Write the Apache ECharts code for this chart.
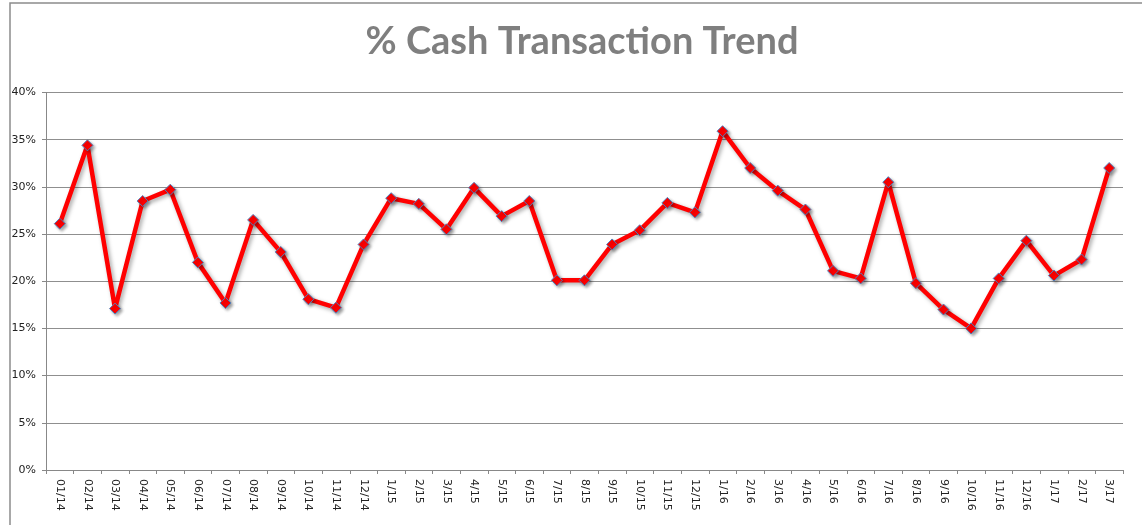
<!DOCTYPE html>
<html>
<head>
<meta charset="utf-8">
<script src="https://cdn.jsdelivr.net/npm/echarts@6/dist/echarts.min.js"></script>
<style>
  html, body { margin: 0; padding: 0; background: #fff; }
  #main { width: 1142px; height: 525px; }
</style>
</head>
<body>
<div id="main"></div>
<script>
// months on the x axis
var months = [
  '01/14', '02/14', '03/14', '04/14', '05/14', '06/14', '07/14', '08/14', '09/14', '10/14', '11/14', '12/14',
  '1/15', '2/15', '3/15', '4/15', '5/15', '6/15', '7/15', '8/15', '9/15', '10/15', '11/15', '12/15',
  '1/16', '2/16', '3/16', '4/16', '5/16', '6/16', '7/16', '8/16', '9/16', '10/16', '11/16', '12/16',
  '1/17', '2/17', '3/17'
]
// % cash transactions
var cashPct = [
  26.1, 34.4, 17.1, 28.5, 29.7, 22.0, 17.7, 26.5, 23.1, 18.1, 17.2, 23.9,
  28.8, 28.2, 25.5, 29.9, 26.9, 28.5, 20.1, 20.1, 23.9, 25.4, 28.3, 27.3,
  35.9, 32.0, 29.6, 27.6, 21.1, 20.3, 30.5, 19.8, 17.0, 15.0, 20.3, 24.3,
  20.6, 22.3, 32.0
]

var myChart = echarts.init(document.getElementById('main'))
var labelFont = { fontFamily: 'DejaVu Sans', fontSize: 11, color: '#222' }

var option = {
  animation: false,
  backgroundColor: '#fff',
  title: {
    text: '% Cash Transaction Trend',
    left: 577,
    top: 18,
    textAlign: 'center',
    textStyle: {
      fontFamily: 'Lato',
      fontWeight: 'bold',
      fontSize: 38,
      color: '#7f7f7f'
    }
  },
  // outer frame of the chart box
  graphic: [
    {
      type: 'rect',
      shape: { x: 10, y: 3, width: 1300, height: 700 },
      style: { fill: 'none', stroke: '#8c8c8c', lineWidth: 1.5 }
    }
  ],
  grid: {
    left: 46,
    right: 19,
    top: 92.5,
    bottom: 55
  },
  xAxis: {
    type: 'category',
    data: months,
    boundaryGap: true,
    axisLine: { show: true, lineStyle: { color: '#888', width: 1 } },
    axisTick: { show: true, length: 4, lineStyle: { color: '#888' } },
    axisLabel: Object.assign({ rotate: -90, margin: 9, interval: 0 }, labelFont)
  },
  yAxis: {
    type: 'value',
    min: 0,
    max: 40,
    interval: 5,
    axisLine: { show: true, lineStyle: { color: '#888', width: 1 } },
    axisTick: { show: true, length: 4, lineStyle: { color: '#888' } },
    axisLabel: Object.assign({ formatter: '{value}%', margin: 10 }, labelFont),
    splitLine: { show: true, lineStyle: { color: '#8f8f8f', width: 1.2 } }
  },
  series: [
    {
      name: '% Cash',
      type: 'line',
      data: cashPct,
      symbol: 'diamond',
      symbolSize: 11,
      lineStyle: {
        color: '#ff0000',
        width: 4.5,
        shadowColor: 'rgba(0,0,0,0.35)',
        shadowBlur: 4,
        shadowOffsetX: 2,
        shadowOffsetY: 2
      },
      itemStyle: {
        color: '#ff0000',
        borderColor: '#4f81bd',
        borderWidth: 1,
        shadowColor: 'rgba(0,0,0,0.3)',
        shadowBlur: 3,
        shadowOffsetX: 2,
        shadowOffsetY: 2
      }
    }
  ]
}

myChart.setOption(option)
</script>
</body>
</html>
